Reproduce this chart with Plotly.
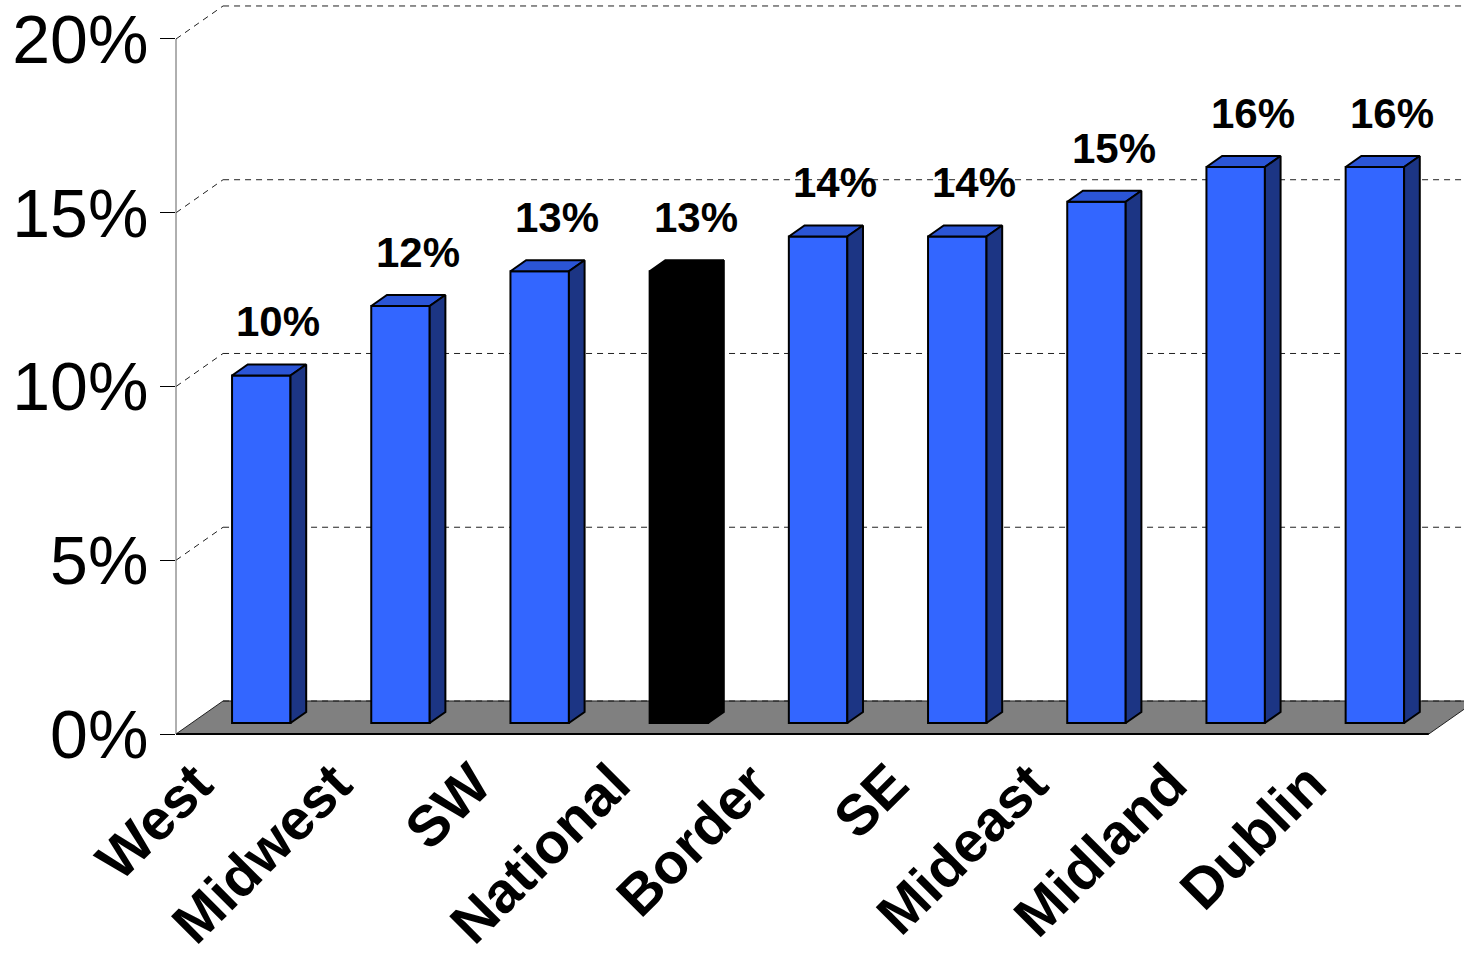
import plotly.graph_objects as go

# ---------------- data ----------------
categories = ["West", "Midwest", "SW", "National", "Border", "SE", "Mideast", "Midland", "Dublin"]
values = [10, 12, 13, 13, 14, 14, 15, 16, 16]
value_labels = ["10%", "12%", "13%", "13%", "14%", "14%", "15%", "16%", "16%"]
highlight = "National"
y_ticks = [0, 5, 10, 15, 20]
y_tick_labels = ["0%", "5%", "10%", "15%", "20%"]

# ---------------- style / geometry ----------------
FONT = "Liberation Sans, Arial, sans-serif"
BAR_W = 0.42          # bar width in category units
DX = 0.338            # full floor depth (x, category units)
DY = 0.95             # full floor depth (y, percent units)
FRONT = "#3366FF"
TOP = "#2B55D6"
SIDE = "#1C3584"
HL = "#000000"

X_MIN, X_MAX = -0.5, 8.753
Y_MIN, Y_MAX = -0.5755, 21.122

n = len(categories)
fig = go.Figure()

# front faces as real bars
front_colors = [HL if c == highlight else FRONT for c in categories]
fig.add_trace(go.Bar(
    x=[i + DX / 3 for i in range(n)],
    y=values,
    base=DY / 3,
    width=BAR_W,
    marker=dict(color=front_colors, line=dict(color="black", width=2)),
    hoverinfo="skip",
    showlegend=False,
))

# top and side faces derived from the same values
for i, (c, v) in enumerate(zip(categories, values)):
    x0 = i - BAR_W / 2 + DX / 3
    x1 = i + BAR_W / 2 + DX / 3
    yb = DY / 3
    yt = v + DY / 3
    ddx, ddy = DX / 3, DY / 3
    hl = c == highlight
    top_c = HL if hl else TOP
    side_c = HL if hl else SIDE
    fig.add_trace(go.Scatter(
        x=[x0, x1, x1 + ddx, x0 + ddx, x0],
        y=[yt, yt, yt + ddy, yt + ddy, yt],
        mode="lines", fill="toself", fillcolor=top_c,
        line=dict(color="black", width=2), hoverinfo="skip", showlegend=False))
    fig.add_trace(go.Scatter(
        x=[x1, x1 + ddx, x1 + ddx, x1, x1],
        y=[yb, yb + ddy, yt + ddy, yt, yb],
        mode="lines", fill="toself", fillcolor=side_c,
        line=dict(color="black", width=2), hoverinfo="skip", showlegend=False))

shapes = []
# floor
shapes.append(dict(
    type="path", layer="below", xref="x", yref="y",
    path=f"M {X_MIN},0 L {n - 0.5},0 L {n - 0.5 + DX},{DY} L {X_MIN + DX},{DY} Z",
    fillcolor="#808080", line=dict(color="#202020", width=1)))
shapes.append(dict(type="line", layer="below", xref="x", yref="y",
                   x0=X_MIN, x1=n - 0.5, y0=0, y1=0,
                   line=dict(color="black", width=2)))
# back-wall dashed gridlines and diagonals
for v in y_ticks:
    shapes.append(dict(type="line", layer="below", xref="x", yref="y",
                       x0=X_MIN + DX, x1=X_MAX + 1, y0=v + DY, y1=v + DY,
                       line=dict(color="#202020", width=1, dash="6px,5px")))
    if v > 0:
        shapes.append(dict(type="line", layer="below", xref="x", yref="y",
                           x0=X_MIN, x1=X_MIN + DX, y0=v, y1=v + DY,
                           line=dict(color="#202020", width=1, dash="6px,5px")))
# vertical axis line
shapes.append(dict(type="line", layer="above", xref="paper", yref="y",
                   x0=0, x1=0, y0=0, y1=y_ticks[-1],
                   line=dict(color="#606060", width=1)))

annotations = []
for i, (lab, v) in enumerate(zip(value_labels, values)):
    annotations.append(dict(
        x=i + 0.235, y=v + 2 * DY / 3, xref="x", yref="y",
        text=lab, showarrow=False, yanchor="bottom", yshift=17,
        font=dict(family=FONT, size=42, color="black", weight="bold")))

fig.update_layout(
    width=1464, height=954,
    margin=dict(l=176, r=0, t=0, b=200, autoexpand=False),
    paper_bgcolor="white", plot_bgcolor="white",
    shapes=shapes, annotations=annotations,
    showlegend=False,
    xaxis=dict(range=[X_MIN, X_MAX], showgrid=False, zeroline=False, showline=False,
               tickmode="array", tickvals=list(range(n)), ticktext=categories,
               tickangle=-45, ticks="", automargin=False,
               tickfont=dict(family=FONT, size=57, color="black", weight="bold"),
               ticklabelshift=-50, ticklabelstandoff=-16, fixedrange=True),
    yaxis=dict(range=[Y_MIN, Y_MAX], showgrid=False, zeroline=False, showline=False,
               tickmode="array", tickvals=y_ticks, ticktext=y_tick_labels,
               ticks="outside", ticklen=15, tickwidth=1, tickcolor="black",
               automargin=False,
               tickfont=dict(family=FONT, size=68, color="black"),
               ticklabelstandoff=-2, fixedrange=True),
)

fig.write_html("out.html")
